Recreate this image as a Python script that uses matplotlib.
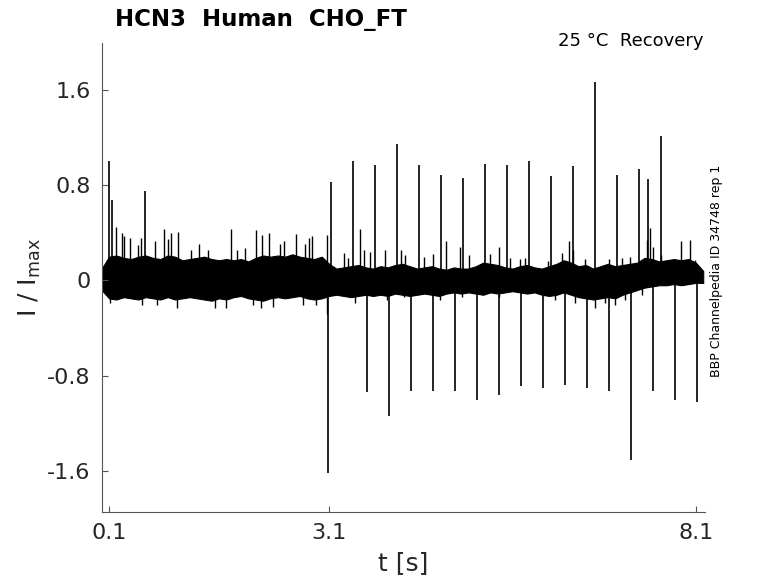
import matplotlib
matplotlib.use("Agg")
import matplotlib.pyplot as plt

# dense noise band, read every 0.1 s from the picture
band_t = [round(0.1 * i, 1) for i in range(83)]
band_hi = [0.10, 0.20, 0.21, 0.19, 0.18, 0.20, 0.21, 0.19, 0.18, 0.21,
           0.20, 0.17, 0.18, 0.19, 0.20, 0.18, 0.17, 0.18, 0.17, 0.18,
           0.16, 0.19, 0.21, 0.20, 0.21, 0.20, 0.22, 0.20, 0.19, 0.18,
           0.20, 0.14, 0.10, 0.11, 0.12, 0.13, 0.11, 0.10, 0.12, 0.11,
           0.13, 0.14, 0.12, 0.10, 0.11, 0.12, 0.10, 0.09, 0.11, 0.10,
           0.10, 0.12, 0.15, 0.14, 0.13, 0.11, 0.10, 0.12, 0.13, 0.11,
           0.10, 0.12, 0.14, 0.17, 0.15, 0.12, 0.13, 0.10, 0.12, 0.14,
           0.12, 0.13, 0.14, 0.15, 0.19, 0.18, 0.16, 0.17, 0.18, 0.17,
           0.18, 0.15, 0.08]
band_lo = [-0.08, -0.15, -0.16, -0.14, -0.15, -0.16, -0.14, -0.15, -0.16, -0.14,
           -0.16, -0.15, -0.14, -0.15, -0.16, -0.17, -0.15, -0.16, -0.14, -0.13,
           -0.15, -0.16, -0.17, -0.15, -0.14, -0.15, -0.14, -0.13, -0.15, -0.16,
           -0.15, -0.13, -0.12, -0.13, -0.14, -0.13, -0.12, -0.13, -0.12, -0.13,
           -0.11, -0.12, -0.13, -0.12, -0.11, -0.12, -0.13, -0.11, -0.10, -0.11,
           -0.10, -0.11, -0.12, -0.10, -0.11, -0.10, -0.09, -0.10, -0.11, -0.10,
           -0.12, -0.13, -0.12, -0.10, -0.12, -0.14, -0.15, -0.16, -0.15, -0.14,
           -0.15, -0.12, -0.10, -0.08, -0.06, -0.05, -0.04, -0.04, -0.03, -0.04,
           -0.03, -0.02, -0.02]

# small noise peaks sticking out of the band
peak_up_t = [0.19, 0.28, 0.30, 0.38, 0.49, 0.53, 0.72, 0.85, 0.90, 0.95,
             1.04, 1.22, 1.32, 1.45, 1.76, 1.84, 1.95, 2.11, 2.18, 2.28,
             2.43, 2.48, 2.65, 2.77, 2.82, 2.87, 3.07, 3.30, 3.36, 3.515,
             3.58, 3.66, 3.86, 4.08, 4.14, 4.39, 4.52, 4.70, 4.88, 5.01,
             5.29, 5.41, 5.57, 5.70, 5.77, 6.09, 6.27, 6.375, 6.42, 6.59,
             6.91, 7.09, 7.20, 7.43, 7.47, 7.51, 7.63, 7.90, 8.015, 8.09]
peak_up_v = [0.45, 0.40, 0.37, 0.36, 0.30, 0.36, 0.33, 0.43, 0.35, 0.40,
             0.41, 0.26, 0.31, 0.26, 0.43, 0.26, 0.27, 0.42, 0.38, 0.40,
             0.31, 0.33, 0.39, 0.31, 0.36, 0.37, 0.38, 0.23, 0.19, 0.43,
             0.26, 0.24, 0.26, 0.26, 0.21, 0.20, 0.22, 0.33, 0.28, 0.21,
             0.22, 0.28, 0.19, 0.18, 0.19, 0.16, 0.23, 0.335, 0.26, 0.18,
             0.18, 0.19, 0.20, 0.34, 0.44, 0.28, 0.21, 0.33, 0.34, 0.17]
peak_dn_t = [0.12, 0.55, 0.76, 1.02, 1.54, 1.70, 2.06, 2.17, 2.33, 2.74,
             2.92, 3.07, 3.46, 3.89, 4.12, 4.61, 4.91, 5.41, 6.18, 6.45,
             6.73, 6.86, 7.00, 7.13, 7.36]
peak_dn_v = [-0.19, -0.21, -0.21, -0.23, -0.23, -0.23, -0.21, -0.23, -0.22, -0.21,
             -0.21, -0.28, -0.19, -0.16, -0.14, -0.16, -0.14, -0.14, -0.16, -0.19,
             -0.23, -0.19, -0.21, -0.16, -0.12]

# large transients
spike_up_t = [0.10, 0.145, 0.59, 3.12, 3.42, 3.72, 4.02, 4.32, 4.62, 4.92,
              5.22, 5.52, 5.82, 6.12, 6.42, 6.72, 7.02, 7.32, 7.45, 7.62]
spike_up_v = [1.00, 0.68, 0.755, 0.83, 1.00, 0.97, 1.15, 0.97, 0.89, 0.86,
              0.98, 0.97, 1.00, 0.88, 0.96, 1.67, 0.89, 0.94, 0.85, 1.21]
spike_dn_t = [3.09, 3.61, 3.92, 4.21, 4.51, 4.81, 5.11, 5.42, 5.71, 6.01,
              6.31, 6.61, 6.91, 7.21, 7.51, 7.81, 8.11]
spike_dn_v = [-1.615, -0.94, -1.14, -0.93, -0.93, -0.93, -1.00, -0.965, -0.89, -0.90,
              -0.88, -0.90, -0.93, -1.51, -0.93, -1.00, -1.02]

x_ticks = [0.1, 3.1, 8.1]
y_ticks = [-1.6, -0.8, 0, 0.8, 1.6]
y_tick_labels = ["-1.6", "-0.8", "0", "0.8", "1.6"]

fig = plt.figure(figsize=(7.78, 5.83), dpi=100)
ax = fig.add_axes([0.1307, 0.1218, 0.776, 0.8044])

ax.fill_between(band_t, band_lo, band_hi, color="black", linewidth=0.8)
ax.vlines(peak_up_t, 0, peak_up_v, color="black", linewidth=1.0)
ax.vlines(peak_dn_t, 0, peak_dn_v, color="black", linewidth=1.0)
ax.vlines(spike_up_t, 0, spike_up_v, color="black", linewidth=1.2)
ax.vlines(spike_dn_t, 0, spike_dn_v, color="black", linewidth=1.2)

ax.set_xlim(0.0, 8.23)
ax.set_ylim(-1.945, 1.995)
ax.set_xticks(x_ticks)
ax.set_xticklabels([str(v) for v in x_ticks])
ax.set_yticks(y_ticks)
ax.set_yticklabels(y_tick_labels)

for s in ["top", "right"]:
    ax.spines[s].set_visible(False)
for s in ["left", "bottom"]:
    ax.spines[s].set_color("#555555")
    ax.spines[s].set_linewidth(0.8)
ax.tick_params(direction="in", length=4, width=0.8, color="#555555",
               labelsize=16, labelcolor="#262626", pad=8)

ax.set_xlabel("t [s]", fontsize=18, color="#262626", labelpad=6)
ax.set_ylabel(r"I / I$_{\mathrm{max}}$", fontsize=18, color="#262626", labelpad=3)

fig.text(0.148, 0.967, "HCN3  Human  CHO_FT", fontsize=16.5, fontweight="bold",
         ha="left", va="center")
fig.text(0.904, 0.929, "25 °C  Recovery", fontsize=13, ha="right", va="center")
fig.text(0.921, 0.535, "BBP Channelpedia ID 34748 rep 1", fontsize=9,
         rotation=90, ha="center", va="center")

fig.savefig("out.png", dpi=100)
